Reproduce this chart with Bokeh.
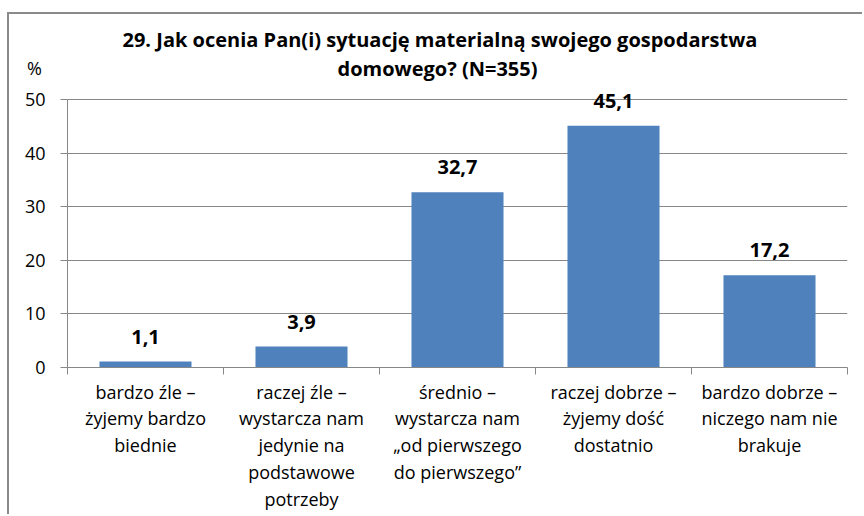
from bokeh.plotting import figure
from bokeh.models import Range1d, FixedTicker, LabelSet, ColumnDataSource, Title, Label
from bokeh.core.properties import value
from bokeh.embed import file_html
from bokeh.resources import INLINE

# ---- data ----
categories = [
    "bardzo źle –\nżyjemy bardzo\nbiednie",
    "raczej źle –\nwystarcza nam\njedynie na\npodstawowe\npotrzeby",
    "średnio –\nwystarcza nam\n„od pierwszego\ndo pierwszego”",
    "raczej dobrze –\nżyjemy dość\ndostatnio",
    "bardzo dobrze –\nniczego nam nie\nbrakuje",
]
values = [1.1, 3.9, 32.7, 45.1, 17.2]
value_labels = ["1,1", "3,9", "32,7", "45,1", "17,2"]
y_ticks = [0, 10, 20, 30, 40, 50]
title_line1 = "29. Jak ocenia Pan(i) sytuację materialną swojego gospodarstwa"
title_line2 = "domowego? (N=355)"
unit_label = "%"

# ---- derived ----
n = len(categories)
centers = [i + 0.5 for i in range(n)]
bounds = list(range(n + 1))
y_max = max(y_ticks)

FONT = "Open Sans"
GREY = "#878787"
BLUE = "#4F81BD"

p = figure(
    width=855, height=502,
    x_range=Range1d(0, n), y_range=Range1d(0, y_max + 3),
    output_backend="svg", toolbar_location=None,
    min_border_left=58, min_border_right=17, min_border_top=69, min_border_bottom=149,
)
p.styles = {"border-left": "2px solid #8a8a8a", "border-top": "2px solid #8a8a8a",
            "margin-left": "7px", "margin-top": "12px"}
p.outline_line_color = None
p.background_fill_color = "white"
p.border_fill_color = "white"

src = ColumnDataSource(dict(x=centers, top=values, lab=value_labels))
p.vbar(x="x", top="top", width=0.59, source=src, fill_color=BLUE, line_color=None)

p.add_layout(LabelSet(x="x", y="top", text="lab", source=src, y_offset=18,
                      text_align="center", text_baseline="alphabetic",
                      text_font=value(FONT), text_font_size=value("20px"),
                      text_font_style=value("bold"), text_color=value("black")))

# x axis
xa = p.xaxis[0]
xa.ticker = FixedTicker(ticks=centers, minor_ticks=bounds)
xa.major_label_overrides = {c: lab for c, lab in zip(centers, categories)}
xa.major_tick_out = 0
xa.major_tick_in = 0
xa.minor_tick_out = 7
xa.minor_tick_in = 0
xa.minor_tick_line_color = GREY
xa.axis_line_color = GREY
xa.major_label_standoff = 5
xa.major_label_text_font = FONT
xa.major_label_text_font_size = "18px"
xa.major_label_text_color = "black"
xa.major_label_text_line_height = 1.12

# y axis
ya = p.yaxis[0]
ya.ticker = FixedTicker(ticks=y_ticks)
ya.bounds = (0, y_max)
ya.major_tick_out = 7
ya.major_tick_in = 0
ya.minor_tick_line_color = None
ya.axis_line_color = GREY
ya.major_tick_line_color = GREY
ya.major_label_standoff = 15
ya.major_label_text_font = FONT
ya.major_label_text_font_size = "18px"
ya.major_label_text_color = "black"

p.xgrid.grid_line_color = None
p.ygrid.grid_line_color = GREY
p.ygrid.grid_line_width = 1

# title lines (closest to the frame first)
p.add_layout(Title(text=title_line2, align="left", offset=270, standoff=4,
                   text_font=FONT, text_font_size="20px", text_font_style="bold",
                   text_color="black"), "above")
p.add_layout(Title(text=title_line1, align="left", offset=55, standoff=-4,
                   text_font=FONT, text_font_size="20px", text_font_style="bold",
                   text_color="black"), "above")

# unit label, held in a side panel so it is not clipped to the frame (canvas coordinates)
p.add_layout(Label(x=23, y=51, x_units="canvas", y_units="canvas", text=unit_label,
                   text_align="center", text_baseline="middle",
                   text_font=FONT, text_font_size="18px", text_color="black"), "right")

open("out.html", "w").write(file_html(p, INLINE))
